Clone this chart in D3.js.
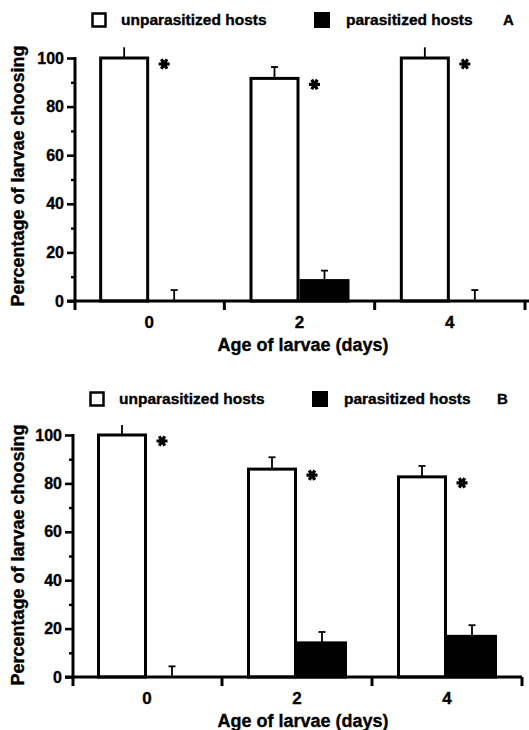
<!DOCTYPE html>
<html>
<head>
<meta charset="utf-8">
<script src="https://cdn.jsdelivr.net/npm/d3@7"></script>
<style>
  body { margin: 0; background: #fff; }
  svg { display: block; }
  text { font-family: "Liberation Sans", Arial, Helvetica, sans-serif; font-weight: bold; fill: #000; stroke: #000; stroke-width: 0.35; }
</style>
</head>
<body>
<script>
// data
var ages = ["0", "2", "4"];
var series = ["unparasitized hosts", "parasitized hosts"];
var unparA = [100, 91.6, 100];
var unparErrA = [4.4, 4.7, 4.4];
var parA = [0, 8.4, 0];
var parErrA = [4.5, 4.1, 4.5];
var unparB = [100, 85.9, 82.7];
var unparErrB = [4.1, 4.9, 4.5];
var parB = [0, 14.1, 16.8];
var parErrB = [4.4, 4.5, 4.6];
var yMajor = [0, 20, 40, 60, 80, 100];
var yMinor = [10, 30, 50, 70, 90];

var width = 529, height = 730;

var svg = d3.select("body").append("svg")
    .attr("width", width)
    .attr("height", height);

function drawPanel(p) {
  var g = svg.append("g");

  var x = d3.scaleBand().domain(ages).range([p.left, p.right]);
  var xs = d3.scaleBand().domain(series)
      .range([x.bandwidth() / 2 - 50, x.bandwidth() / 2 + 50]);
  var y = d3.scaleLinear().domain([0, 100]).range([p.bottom, p.top]);

  var rows = ages.map(function(a, i) {
    return [
      {age: a, s: series[0], v: p.unpar[i], e: p.unparErr[i]},
      {age: a, s: series[1], v: p.par[i], e: p.parErr[i]}
    ];
  });
  var flat = d3.merge(rows);

  // error bars (drawn first, bars sit on top)
  var eb = g.selectAll(".err").data(flat).enter().append("g").attr("class", "err");
  eb.append("line")
      .attr("x1", function(d) { return x(d.age) + xs(d.s) + xs.bandwidth() / 2; })
      .attr("x2", function(d) { return x(d.age) + xs(d.s) + xs.bandwidth() / 2; })
      .attr("y1", function(d) { return y(d.v); })
      .attr("y2", function(d) { return y(d.v + d.e); })
      .attr("stroke", "#000").attr("stroke-width", 1.8);
  eb.filter(function(d) { return d.v < 100; }).append("line")
      .attr("x1", function(d) { return x(d.age) + xs(d.s) + xs.bandwidth() / 2 - 3.5; })
      .attr("x2", function(d) { return x(d.age) + xs(d.s) + xs.bandwidth() / 2 + 3.5; })
      .attr("y1", function(d) { return y(d.v + d.e); })
      .attr("y2", function(d) { return y(d.v + d.e); })
      .attr("stroke", "#000").attr("stroke-width", 1.8);

  // bars
  g.selectAll(".bar").data(flat.filter(function(d) { return d.v > 0; }))
    .enter().append("rect")
      .attr("class", "bar")
      .attr("x", function(d) { return x(d.age) + xs(d.s) + 1.5; })
      .attr("width", xs.bandwidth() - 3)
      .attr("y", function(d) { return y(d.v); })
      .attr("height", function(d) { return y(0) - y(d.v); })
      .attr("fill", function(d) { return d.s === series[0] ? "#fff" : "#000"; })
      .attr("stroke", "#000")
      .attr("stroke-width", 3);

  // significance stars
  var star = d3.symbol().type(d3.symbolAsterisk).size(85);
  g.selectAll(".star").data(flat.filter(function(d) { return d.s === series[0]; }))
    .enter().append("path")
      .attr("class", "star")
      .attr("d", star)
      .attr("transform", function(d) {
        return "translate(" + (x(d.age) + xs(d.s) + xs.bandwidth() + 15) + "," + (y(d.v) + 6) + ") rotate(90)";
      })
      .attr("stroke", "#000").attr("stroke-width", 3.2).attr("fill", "none");

  // y axis
  var ya = g.append("g").attr("transform", "translate(" + p.axisX + ",0)")
      .call(d3.axisLeft(y).tickValues(yMajor).tickSize(8).tickPadding(3));
  ya.select(".domain").remove();
  ya.selectAll(".tick line").attr("stroke-width", 2.6);
  ya.selectAll(".tick text").attr("font-size", 16)
      .style("font-family", "'Liberation Sans', Arial, sans-serif").style("font-weight", "bold");
  var ym = g.append("g").attr("transform", "translate(" + p.axisX + ",0)")
      .call(d3.axisLeft(y).tickValues(yMinor).tickSize(4).tickFormat(""));
  ym.select(".domain").remove();
  ym.selectAll(".tick line").attr("stroke-width", 2.4);
  g.append("line")
      .attr("x1", p.axisX).attr("x2", p.axisX)
      .attr("y1", y(100) - 1).attr("y2", y(0) + 9)
      .attr("stroke", "#000").attr("stroke-width", 3);

  // x axis
  var bounds = ages.map(function(a) { return x(a); }).concat([x(ages[ages.length - 1]) + x.bandwidth()]);
  g.selectAll(".xtick").data(bounds.slice(1)).enter().append("line")
      .attr("x1", function(d) { return d; }).attr("x2", function(d) { return d; })
      .attr("y1", y(0)).attr("y2", y(0) + 9)
      .attr("stroke", "#000").attr("stroke-width", 3);
  g.append("line")
      .attr("x1", p.axisX - 8).attr("x2", p.axisEnd)
      .attr("y1", y(0)).attr("y2", y(0))
      .attr("stroke", "#000").attr("stroke-width", 3);
  g.selectAll(".xlab").data(ages).enter().append("text")
      .attr("x", function(d) { return x(d) + x.bandwidth() / 2; })
      .attr("y", y(0) + 21)
      .attr("dy", "0.35em")
      .attr("text-anchor", "middle")
      .attr("font-size", 17)
      .text(function(d) { return d; });

  g.append("text")
      .attr("x", 303).attr("y", y(0) + 44).attr("dy", "0.35em")
      .attr("text-anchor", "middle").attr("font-size", 18)
      .text("Age of larvae (days)");

  g.append("text")
      .attr("transform", "translate(18," + p.labelY + ") rotate(-90)")
      .attr("dy", "0.35em")
      .attr("text-anchor", "middle").attr("font-size", 18)
      .text("Percentage of larvae choosing");

  // legend
  var lg = g.append("g").attr("transform", "translate(" + p.legX + "," + p.legY + ")");
  lg.append("rect").attr("x", 1.5).attr("y", -6.5).attr("width", 13).attr("height", 13)
      .attr("fill", "#fff").attr("stroke", "#000").attr("stroke-width", 2.5);
  lg.append("text").attr("x", 30).attr("dy", "0.35em").attr("font-size", 15.5).text(series[0]);
  lg.append("rect").attr("x", 223).attr("y", -8).attr("width", 16).attr("height", 16)
      .attr("fill", "#000");
  lg.append("text").attr("x", 255).attr("dy", "0.35em").attr("font-size", 15.5).text(series[1]);
  g.append("text").attr("x", p.letterX).attr("y", p.legY).attr("dy", "0.35em")
      .attr("font-size", 15).text(p.letter);
}

drawPanel({
  unpar: unparA, unparErr: unparErrA, par: parA, parErr: parErrA,
  left: 74, right: 525, axisX: 75, axisEnd: 529, top: 58, bottom: 301,
  labelY: 176, legX: 91, legY: 20, letter: "A", letterX: 503
});
drawPanel({
  unpar: unparB, unparErr: unparErrB, par: parB, parErr: parErrB,
  left: 72, right: 522, axisX: 73, axisEnd: 522, top: 435, bottom: 677,
  labelY: 555, legX: 89, legY: 399, letter: "B", letterX: 497
});
</script>
</body>
</html>
